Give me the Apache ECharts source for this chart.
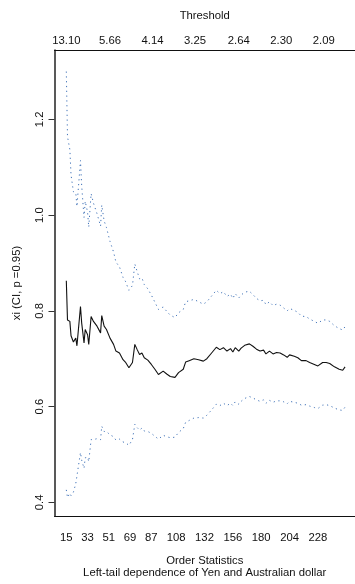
<!DOCTYPE html>
<html>
<head>
<meta charset="utf-8">
<script src="https://cdn.jsdelivr.net/npm/echarts@6/dist/echarts.min.js"></script>
<style>
  html, body { margin: 0; padding: 0; background: #fff; }
  #chart { width: 355px; height: 584px; }
</style>
</head>
<body>
<div id="chart"></div>
<script>
// Hill-type shape estimates of the left tail, with 95% confidence band
const orderStats = [
  15, 16, 18, 19, 21, 23, 24, 27, 28, 30,
  31, 33, 34, 36, 38, 41, 44, 45, 47, 49,
  52, 55, 57, 60, 63, 65, 68, 71, 73, 75,
  77, 79, 81, 84, 87, 90, 93, 97, 100, 103,
  107, 110, 114, 116, 119, 123, 127, 131, 134, 138,
  142, 145, 148, 151, 154, 156, 158, 161, 163, 166,
  170, 173, 176, 179, 182, 184, 187, 190, 193, 196,
  199, 202, 204, 208, 211, 214, 218, 221, 225, 228,
  232, 235, 238, 242, 246, 249, 251
];
const xiEstimate = [
  0.863, 0.781, 0.778, 0.748, 0.735, 0.743, 0.727, 0.809, 0.775, 0.733,
  0.761, 0.750, 0.730, 0.788, 0.778, 0.768, 0.754, 0.790, 0.768, 0.761,
  0.743, 0.730, 0.716, 0.712, 0.698, 0.693, 0.681, 0.692, 0.730, 0.719,
  0.709, 0.712, 0.702, 0.697, 0.688, 0.678, 0.667, 0.674, 0.668, 0.663,
  0.661, 0.671, 0.678, 0.693, 0.696, 0.700, 0.698, 0.695, 0.700, 0.712,
  0.724, 0.719, 0.723, 0.716, 0.721, 0.714, 0.723, 0.716, 0.722, 0.728,
  0.731, 0.726, 0.720, 0.716, 0.718, 0.710, 0.716, 0.710, 0.713, 0.712,
  0.708, 0.703, 0.708, 0.705, 0.702, 0.696, 0.696, 0.692, 0.688, 0.685,
  0.692, 0.692, 0.690, 0.683, 0.678, 0.676, 0.683
];
const ciUpper = [
  1.300, 1.164, 1.137, 1.084, 1.049, 1.047, 1.018, 1.114, 1.062, 0.995,
  1.029, 1.006, 0.975, 1.045, 1.025, 1.003, 0.977, 1.021, 0.988, 0.974,
  0.945, 0.923, 0.902, 0.892, 0.870, 0.862, 0.843, 0.853, 0.898, 0.882,
  0.867, 0.869, 0.855, 0.846, 0.833, 0.818, 0.803, 0.808, 0.799, 0.791,
  0.786, 0.796, 0.803, 0.819, 0.821, 0.824, 0.819, 0.814, 0.819, 0.831,
  0.843, 0.836, 0.840, 0.830, 0.835, 0.826, 0.836, 0.827, 0.833, 0.839,
  0.841, 0.834, 0.826, 0.821, 0.822, 0.813, 0.819, 0.811, 0.814, 0.812,
  0.806, 0.800, 0.805, 0.801, 0.797, 0.789, 0.788, 0.783, 0.778, 0.774,
  0.781, 0.781, 0.778, 0.769, 0.763, 0.760, 0.767
];
const ciLower = [
  0.426, 0.410, 0.419, 0.414, 0.421, 0.439, 0.436, 0.504, 0.488, 0.471,
  0.493, 0.494, 0.485, 0.531, 0.531, 0.533, 0.531, 0.559, 0.548, 0.548,
  0.541, 0.537, 0.530, 0.532, 0.526, 0.525, 0.519, 0.531, 0.563, 0.556,
  0.551, 0.555, 0.549, 0.548, 0.544, 0.538, 0.532, 0.540, 0.537, 0.535,
  0.536, 0.546, 0.554, 0.567, 0.571, 0.576, 0.577, 0.576, 0.582, 0.593,
  0.605, 0.602, 0.607, 0.602, 0.607, 0.602, 0.610, 0.605, 0.611, 0.617,
  0.621, 0.618, 0.614, 0.611, 0.614, 0.607, 0.613, 0.609, 0.612, 0.612,
  0.610, 0.606, 0.611, 0.609, 0.607, 0.603, 0.604, 0.601, 0.598, 0.596,
  0.603, 0.604, 0.602, 0.597, 0.593, 0.592, 0.599
];

// Axis labelling
const orderTicks = [15, 33, 51, 69, 87, 108, 132, 156, 180, 204, 228];
const thresholdAt = [15, 52, 88, 124, 161, 197, 233];
const thresholdLabels = ['13.10', '5.66', '4.14', '3.25', '2.64', '2.30', '2.09'];
const xiTicks = [0.4, 0.6, 0.8, 1.0, 1.2];

const FONT = "'Liberation Sans', Arial, Helvetica, sans-serif";
const FS = 11.3;
const X_MIN = 5, X_MAX = 259.4;
const Y_MIN = 0.3714, Y_MAX = 1.345;

const pairs = (vals) => orderStats.map((k, i) => [k, vals[i]]);

const chart = echarts.init(document.getElementById('chart'), null, { renderer: 'canvas' });

const bandStyle = { color: '#3f72b8', width: 1, type: [1.2, 3.6] };

chart.setOption({
  animation: false,
  backgroundColor: '#fff',
  textStyle: { fontFamily: FONT },
  grid: { left: 54.5, right: 0, top: 50, bottom: 64.5, containLabel: false },
  xAxis: [
    {
      type: 'value', position: 'bottom', min: X_MIN, max: X_MAX,
      name: 'Order Statistics\nLeft-tail dependence of Yen and Australian dollar',
      nameLocation: 'middle', nameGap: 39,
      nameTextStyle: { fontFamily: FONT, fontSize: FS, color: '#111', lineHeight: 12 },
      axisLine: { show: true, lineStyle: { color: '#111', width: 1 } },
      axisTick: { show: false },
      splitLine: { show: false },
      axisLabel: {
        customValues: orderTicks, margin: 16,
        fontFamily: FONT, fontSize: FS, color: '#111',
        formatter: (v) => String(v)
      }
    },
    {
      type: 'value', position: 'top', min: X_MIN, max: X_MAX,
      name: 'Threshold', nameLocation: 'middle', nameGap: 29,
      nameTextStyle: { fontFamily: FONT, fontSize: FS, color: '#111' },
      axisLine: { show: true, lineStyle: { color: '#111', width: 1 } },
      axisTick: { show: false },
      splitLine: { show: false },
      axisLabel: {
        customValues: thresholdAt, margin: 4,
        fontFamily: FONT, fontSize: FS, color: '#111',
        formatter: (v) => {
          const i = thresholdAt.indexOf(v);
          return i >= 0 ? thresholdLabels[i] : '';
        }
      }
    }
  ],
  yAxis: {
    type: 'value', min: Y_MIN, max: Y_MAX,
    name: 'xi (CI, p =0.95)', nameLocation: 'middle', nameGap: 32,
    nameTextStyle: { fontFamily: FONT, fontSize: FS, color: '#111' },
    axisLine: { show: true, lineStyle: { color: '#222', width: 1.5 } },
    axisTick: { show: true, customValues: xiTicks, length: 6, lineStyle: { color: '#333', width: 1 } },
    splitLine: { show: false },
    axisLabel: {
      customValues: xiTicks, rotate: 90, margin: 9,
      fontFamily: FONT, fontSize: FS, color: '#111',
      formatter: (v) => v.toFixed(1)
    }
  },
  series: [
    {
      name: 'upper', type: 'line', xAxisIndex: 0, data: pairs(ciUpper),
      showSymbol: false, lineStyle: bandStyle, silent: true
    },
    {
      name: 'estimate', type: 'line', xAxisIndex: 0, data: pairs(xiEstimate),
      showSymbol: false, lineStyle: { color: '#111', width: 1.1 }, silent: true
    },
    {
      name: 'lower', type: 'line', xAxisIndex: 0, data: pairs(ciLower),
      showSymbol: false, lineStyle: bandStyle, silent: true
    }
  ]
});
</script>
</body>
</html>
